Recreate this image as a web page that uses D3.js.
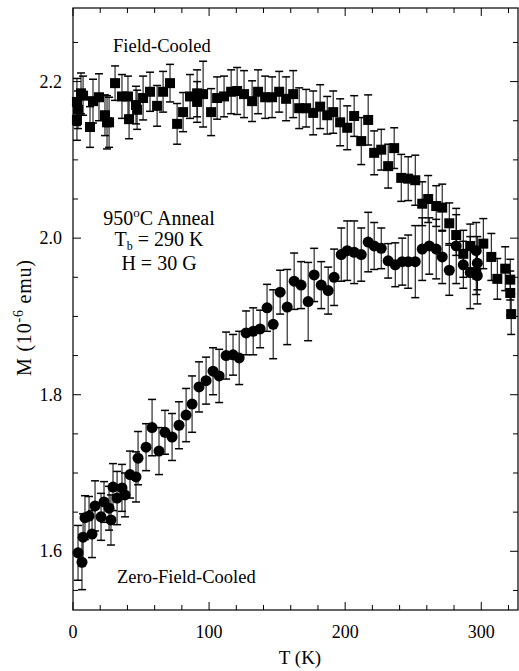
<!DOCTYPE html>
<html><head><meta charset="utf-8">
<script src="https://cdn.jsdelivr.net/npm/d3@7"></script>
<style>body{margin:0;background:#fff}svg{display:block}text{font-family:"Liberation Serif","Times New Roman",serif;fill:#000}</style>
</head><body>
<svg id="c" width="519" height="671"></svg>
<script>
// Field-cooled (squares)
const fcT = [2.9,2.9,3.7,5.9,7.4,12.5,14.7,19.1,23.5,25.0,26.5,30.9,36.0,40.4,41.2,46.3,47.1,51.5,56.6,61.8,66.2,71.3,76.5,80.9,86.0,91.2,91.2,95.6,101.5,105.9,111.0,116.2,120.6,125.7,131.6,136.0,141.2,146.3,151.5,156.6,161.8,166.2,171.3,176.5,181.6,186.8,191.2,196.3,201.5,206.6,211.8,216.9,221.3,226.5,231.6,236.0,241.2,246.3,251.5,256.6,261.0,266.9,271.3,276.5,281.6,286.8,291.9,296.3,301.5,307.4,311.8,317.6,321.3,321.3,322.0];
const fcM = [2.151,2.174,2.164,2.185,2.182,2.142,2.175,2.180,2.157,2.148,2.148,2.198,2.181,2.181,2.152,2.170,2.164,2.179,2.187,2.169,2.187,2.198,2.146,2.161,2.181,2.185,2.174,2.184,2.161,2.179,2.181,2.187,2.188,2.184,2.175,2.187,2.180,2.180,2.187,2.178,2.184,2.166,2.166,2.160,2.168,2.157,2.161,2.148,2.141,2.156,2.124,2.151,2.109,2.113,2.092,2.115,2.077,2.076,2.074,2.044,2.050,2.041,2.039,2.019,2.004,1.980,1.990,1.956,1.993,1.976,1.948,1.961,1.947,1.930,1.903];
const fcErr = [0.026,0.030,0.024,0.026,0.025,0.026,0.028,0.030,0.026,0.034,0.032,0.022,0.028,0.026,0.025,0.024,0.025,0.028,0.025,0.026,0.026,0.024,0.026,0.025,0.028,0.030,0.026,0.042,0.030,0.027,0.026,0.028,0.030,0.030,0.026,0.028,0.027,0.026,0.026,0.028,0.030,0.026,0.024,0.028,0.028,0.024,0.027,0.030,0.028,0.026,0.030,0.032,0.028,0.026,0.028,0.026,0.030,0.028,0.032,0.028,0.030,0.026,0.030,0.026,0.026,0.030,0.028,0.028,0.032,0.030,0.026,0.028,0.026,0.028,0.026];
// Zero-field-cooled (circles)
const zfcT = [3.7,6.6,7.4,8.8,11.8,14.0,16.2,20.6,22.8,26.5,27.9,29.4,32.4,36.0,38.2,41.9,46.3,47.8,53.7,58.1,63.2,67.6,72.8,77.9,83.1,87.5,92.6,97.8,102.9,107.4,112.5,117.6,122.1,127.2,132.4,137.5,142.6,147.1,152.2,157.4,162.5,167.6,172.8,177.2,182.4,187.5,191.9,197.1,201.5,206.6,211.8,216.9,221.3,226.5,231.6,236.8,241.9,246.3,251.5,256.6,261.8,266.9,271.3,276.5,281.6,286.8,291.9,296.3,297.1,297.1];
const zfcM = [1.598,1.586,1.618,1.643,1.645,1.622,1.658,1.644,1.663,1.655,1.640,1.682,1.668,1.681,1.672,1.698,1.695,1.719,1.733,1.758,1.728,1.752,1.746,1.761,1.774,1.788,1.810,1.818,1.830,1.824,1.850,1.851,1.847,1.879,1.881,1.884,1.911,1.890,1.931,1.912,1.945,1.940,1.919,1.953,1.940,1.933,1.950,1.979,1.984,1.982,1.979,1.995,1.990,1.987,1.971,1.966,1.970,1.970,1.970,1.986,1.990,1.986,1.976,1.959,1.990,1.966,1.956,1.984,1.968,1.952];
const zfcErr = [0.035,0.035,0.030,0.028,0.025,0.030,0.032,0.030,0.026,0.028,0.032,0.030,0.034,0.030,0.028,0.030,0.032,0.034,0.030,0.036,0.030,0.028,0.030,0.030,0.034,0.036,0.032,0.030,0.030,0.034,0.030,0.026,0.034,0.028,0.030,0.024,0.030,0.044,0.028,0.048,0.036,0.030,0.050,0.034,0.030,0.030,0.036,0.034,0.038,0.040,0.034,0.038,0.030,0.026,0.022,0.028,0.030,0.034,0.046,0.040,0.036,0.038,0.034,0.032,0.048,0.030,0.046,0.036,0.034,0.036];
const xTicks = [0,100,200,300];
const yTicks = [1.6,1.8,2.0,2.2];

const svg = d3.select("#c");
const L=73, R=518, T=8, B=610;
const x = d3.scaleLinear().domain([0,327]).range([L,R]);
const y = d3.scaleLinear().domain([1.525,2.294]).range([B,T]);

// frame
svg.append("rect").attr("x",L).attr("y",T).attr("width",R-L).attr("height",B-T)
  .attr("fill","none").attr("stroke","#000").attr("stroke-width",1.2);

// ticks (inward) on all four sides
const xMinor = d3.range(0,327,20);
const yMinor = d3.range(1.55,2.294,0.05).map(v=>+v.toFixed(2));
const tk = svg.append("g").attr("stroke","#000").attr("stroke-width",1);
xMinor.forEach(v=>{
  const len = (v%100===0)?8:5;
  tk.append("line").attr("x1",x(v)).attr("x2",x(v)).attr("y1",B).attr("y2",B-len);
  tk.append("line").attr("x1",x(v)).attr("x2",x(v)).attr("y1",T).attr("y2",T+len);
});
yMinor.forEach(v=>{
  const major = yTicks.some(t=>Math.abs(t-v)<1e-6);
  const len = major?8:5;
  tk.append("line").attr("x1",L).attr("x2",L+len).attr("y1",y(v)).attr("y2",y(v));
  tk.append("line").attr("x1",R).attr("x2",R-len).attr("y1",y(v)).attr("y2",y(v));
});

// tick labels
svg.append("g").selectAll("text").data(xTicks).join("text")
  .attr("x",d=>x(d)).attr("y",B+28).attr("text-anchor","middle").attr("font-size",18).text(d=>d);
svg.append("g").selectAll("text").data(yTicks).join("text")
  .attr("x",L-11).attr("y",d=>y(d)+6).attr("text-anchor","end").attr("font-size",18).text(d=>d.toFixed(1));

// axis titles
svg.append("text").attr("x",300).attr("y",664).attr("text-anchor","middle").attr("font-size",19).text("T (K)");
const yl = svg.append("text").attr("transform","translate(31,318) rotate(-90)").attr("text-anchor","middle")
  .attr("font-size",20).attr("textLength",116).attr("lengthAdjust","spacing");
yl.append("tspan").text("M (10");
yl.append("tspan").attr("dy",-8).attr("font-size",14).text("-6");
yl.append("tspan").attr("dy",8).text(" emu)");

// error bars
function errBars(Ts,Ms,Es){
  const g = svg.append("g").attr("stroke","#000").attr("stroke-width",1);
  Ts.forEach((t,i)=>{
    const cx=x(t), y1=y(Ms[i]+Es[i]), y2=y(Ms[i]-Es[i]);
    g.append("line").attr("x1",cx).attr("x2",cx).attr("y1",y1).attr("y2",y2);
    g.append("line").attr("x1",cx-4).attr("x2",cx+4).attr("y1",y1).attr("y2",y1).attr("stroke-width",1.5);
    g.append("line").attr("x1",cx-4).attr("x2",cx+4).attr("y1",y2).attr("y2",y2).attr("stroke-width",1.5);
  });
}
errBars(fcT,fcM,fcErr);
errBars(zfcT,zfcM,zfcErr);

// markers
const S=10;
svg.append("g").selectAll("rect").data(fcT).join("rect")
  .attr("x",(d)=>x(d)-S/2).attr("y",(d,i)=>y(fcM[i])-S/2).attr("width",S).attr("height",S).attr("fill","#000");
svg.append("g").selectAll("circle").data(zfcT).join("circle")
  .attr("cx",d=>x(d)).attr("cy",(d,i)=>y(zfcM[i])).attr("r",5.5).attr("fill","#000");

// annotations
svg.append("text").attr("x",113).attr("y",52).attr("font-size",18.5).text("Field-Cooled");
svg.append("text").attr("x",117).attr("y",583).attr("font-size",18.5).text("Zero-Field-Cooled");
const a1 = svg.append("text").attr("x",159).attr("y",225).attr("text-anchor","middle").attr("font-size",20);
a1.append("tspan").text("950");
a1.append("tspan").attr("dy",-8).attr("font-size",13).text("o");
a1.append("tspan").attr("dy",8).text("C Anneal");
const a2 = svg.append("text").attr("x",159).attr("y",246).attr("text-anchor","middle").attr("font-size",20);
a2.append("tspan").text("T");
a2.append("tspan").attr("dy",4).attr("font-size",12).text("b");
a2.append("tspan").attr("dy",-4).text(" = 290 K");
svg.append("text").attr("x",159).attr("y",270).attr("text-anchor","middle").attr("font-size",20).text("H = 30 G");
</script>
</body></html>
